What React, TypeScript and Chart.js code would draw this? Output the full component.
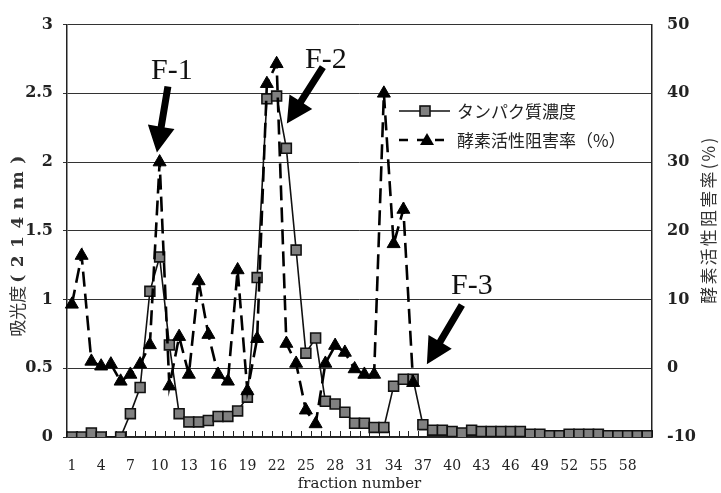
import React, { useEffect, useRef } from "react";
import { Chart, registerables } from "chart.js";

Chart.register(...registerables);

// ---------- data ----------
const fractions = [
  "1", "2", "3", "4", "5", "6", "7", "8", "9", "10",
  "11", "12", "13", "14", "15", "16", "17", "18", "19", "20",
  "21", "22", "23", "24", "25", "26", "27", "28", "29", "30",
  "31", "32", "33", "34", "35", "36", "37", "38", "39", "40",
  "41", "42", "43", "44", "45", "46", "47", "48", "49", "50",
  "51", "52", "53", "54", "55", "56", "57", "58", "59", "60",
];

// absorbance at 214 nm (left axis)
const proteinAbsorbance = [
  0, 0, 0.03, 0, null, 0, 0.17, 0.36, 1.06, 1.31,
  0.67, 0.17, 0.11, 0.11, 0.12, 0.15, 0.15, 0.19, 0.29, 1.16,
  2.46, 2.48, 2.1, 1.36, 0.61, 0.72, 0.26, 0.24, 0.18, 0.1,
  0.1, 0.07, 0.07, 0.37, 0.42, 0.42, 0.09, 0.05, 0.05, 0.04,
  0.03, 0.05, 0.04, 0.04, 0.04, 0.04, 0.04, 0.02, 0.02, 0.01,
  0.01, 0.02, 0.02, 0.02, 0.02, 0.01, 0.01, 0.01, 0.01, 0.01,
];

// enzyme activity inhibition rate in % (right axis)
const inhibitionRate = [
  9.3, 16.4, 1.0, 0.3, 0.6, -1.9, -0.9, 0.6, 3.4, 30.0,
  -2.6, 4.6, -0.9, 12.7, 4.9, -0.9, -1.9, 14.3, -3.3, 4.3,
  41.4, 44.3, 3.6, 0.7, -6.1, -8.1, 0.7, 3.3, 2.3, -0.1,
  -0.9, -0.9, 40.0, 18.1, 23.1, -2.1, null, null, null, null,
  null, null, null, null, null, null, null, null, null, null,
  null, null, null, null, null, null, null, null, null, null,
];

const proteinLabel = "タンパク質濃度";
const inhibitionLabel = "酵素活性阻害率（%）";
const leftTitleMain = "吸光度";
const leftTitleUnit = "(214nm)";
const rightTitle = "酵素活性阻害率(%)";
const xTitle = "fraction number";

const leftMin = 0;
const leftMax = 3;
const leftStep = 0.5;
const rightMin = -10;
const rightMax = 50;
const rightStep = 10;

// annotation labels with arrows, in data space (x = category index, y = left axis value)
const fLabels = ["F-1", "F-2", "F-3"];
const fTextIdx = [10.26, 26.05, 41.03];
const fTextVal = [2.66, 2.74, 1.1];
const fFromIdx = [9.85, 25.74, 40.0];
const fFromVal = [2.55, 2.69, 0.96];
const fToIdx = [8.72, 22.05, 36.41];
const fToVal = [2.07, 2.28, 0.53];

// ---------- helpers ----------
// draws text rotated -90deg, starting at (cx, startY) and running upward, spread over targetLen
function drawSpacedUp(
  ctx: CanvasRenderingContext2D,
  text: string,
  cx: number,
  startY: number,
  targetLen: number,
  font: string,
  color: string
) {
  ctx.save();
  ctx.font = font;
  ctx.fillStyle = color;
  ctx.translate(cx, startY);
  ctx.rotate(-Math.PI / 2);
  const chars = Array.from(text);
  const widths = chars.map((c) => ctx.measureText(c).width);
  const total = widths.reduce((a, b) => a + b, 0);
  const gap = chars.length > 1 ? Math.max(0, (targetLen - total) / (chars.length - 1)) : 0;
  let x = 0;
  ctx.textAlign = "left";
  ctx.textBaseline = "middle";
  chars.forEach((c, i) => {
    ctx.fillText(c, x, 0);
    x += widths[i] + gap;
  });
  ctx.restore();
}

function drawArrow(
  ctx: CanvasRenderingContext2D,
  x1: number,
  y1: number,
  x2: number,
  y2: number
) {
  const shaftW = 7;
  const headW = 27;
  const headL = 26;
  const dx = x2 - x1;
  const dy = y2 - y1;
  const len = Math.sqrt(dx * dx + dy * dy);
  const ux = dx / len;
  const uy = dy / len;
  const nx = -uy;
  const ny = ux;
  const bx = x2 - ux * headL;
  const by = y2 - uy * headL;
  ctx.save();
  ctx.fillStyle = "#000";
  ctx.beginPath();
  ctx.moveTo(x1 + nx * shaftW / 2, y1 + ny * shaftW / 2);
  ctx.lineTo(bx + nx * shaftW / 2, by + ny * shaftW / 2);
  ctx.lineTo(bx + nx * headW / 2, by + ny * headW / 2);
  ctx.lineTo(x2, y2);
  ctx.lineTo(bx - nx * headW / 2, by - ny * headW / 2);
  ctx.lineTo(bx - nx * shaftW / 2, by - ny * shaftW / 2);
  ctx.lineTo(x1 - nx * shaftW / 2, y1 - ny * shaftW / 2);
  ctx.closePath();
  ctx.fill();
  ctx.restore();
}

const decorPlugin = {
  id: "decor",
  beforeDatasetsDraw(chart: any) {
    const { ctx, chartArea, scales } = chart;
    const xs = scales.x;
    ctx.save();
    ctx.strokeStyle = "#222";
    ctx.lineWidth = 1;
    for (let i = 0; i <= fractions.length; i++) {
      const px = Math.round(xs.getPixelForValue(i - 0.5)) + 0.5;
      ctx.beginPath();
      ctx.moveTo(px, chartArea.bottom);
      ctx.lineTo(px, chartArea.bottom - 6);
      ctx.stroke();
    }
    ctx.restore();
  },
  afterDraw(chart: any) {
    const { ctx, chartArea, scales } = chart;
    const xs = scales.x;
    const ys = scales.y;

    // left axis title: CJK part tight, unit part spread
    const midY = (chartArea.top + chartArea.bottom) / 2;
    const leftStart = midY + 106;
    drawSpacedUp(ctx, leftTitleMain, 18, leftStart, 0, '17px "Noto Sans CJK JP"', "#333");
    ctx.save();
    ctx.font = '17px "Noto Sans CJK JP"';
    const mainW = ctx.measureText(leftTitleMain).width;
    ctx.restore();
    drawSpacedUp(
      ctx,
      leftTitleUnit,
      19,
      leftStart - mainW - 3,
      127,
      'bold 17px "DejaVu Serif", serif',
      "#333"
    );

    // right axis title
    ctx.save();
    ctx.font = '17px "Noto Sans CJK JP"';
    const rw = ctx.measureText(rightTitle).width;
    ctx.restore();
    drawSpacedUp(
      ctx,
      rightTitle,
      chartArea.right + 57,
      midY - 10 + Math.max(rw, 166) / 2,
      166,
      '17px "Noto Sans CJK JP"',
      "#333"
    );

    // legend
    const ds0 = chart.data.datasets[0];
    const ds1 = chart.data.datasets[1];
    const lx = chartArea.left + 332;
    const ly1 = 111;
    const ly2 = 140;
    ctx.save();
    ctx.strokeStyle = ds0.borderColor;
    ctx.lineWidth = ds0.borderWidth;
    ctx.beginPath();
    ctx.moveTo(lx, ly1);
    ctx.lineTo(lx + 51, ly1);
    ctx.stroke();
    ctx.fillStyle = ds0.pointBackgroundColor;
    ctx.strokeStyle = ds0.pointBorderColor;
    ctx.lineWidth = ds0.pointBorderWidth;
    ctx.fillRect(lx + 21, ly1 - 5, 10, 10);
    ctx.strokeRect(lx + 21, ly1 - 5, 10, 10);

    ctx.strokeStyle = ds1.borderColor;
    ctx.lineWidth = ds1.borderWidth;
    ctx.setLineDash([9, 9]);
    ctx.beginPath();
    ctx.moveTo(lx, ly2);
    ctx.lineTo(lx + 45, ly2);
    ctx.stroke();
    ctx.setLineDash([]);
    ctx.fillStyle = ds1.pointBackgroundColor;
    ctx.beginPath();
    ctx.moveTo(lx + 28, ly2 - 7);
    ctx.lineTo(lx + 35, ly2 + 5);
    ctx.lineTo(lx + 21, ly2 + 5);
    ctx.closePath();
    ctx.fill();

    ctx.fillStyle = "#222";
    ctx.font = '17px "Noto Sans CJK JP"';
    ctx.textAlign = "left";
    ctx.textBaseline = "middle";
    ctx.fillText(proteinLabel, lx + 58, ly1 + 1);
    ctx.fillText(inhibitionLabel, lx + 58, ly2 + 1);
    ctx.restore();

    // F labels + arrows
    ctx.save();
    ctx.fillStyle = "#111";
    ctx.font = '30px "Liberation Serif", "DejaVu Serif", serif';
    ctx.textAlign = "center";
    ctx.textBaseline = "middle";
    for (let i = 0; i < fLabels.length; i++) {
      ctx.fillText(fLabels[i], xs.getPixelForValue(fTextIdx[i]), ys.getPixelForValue(fTextVal[i]));
      drawArrow(
        ctx,
        xs.getPixelForValue(fFromIdx[i]),
        ys.getPixelForValue(fFromVal[i]),
        xs.getPixelForValue(fToIdx[i]),
        ys.getPixelForValue(fToVal[i])
      );
    }
    ctx.restore();
  },
};

export default function App() {
  const canvasRef = useRef<HTMLCanvasElement | null>(null);

  useEffect(() => {
    document.body.style.margin = "0";
    const canvas = canvasRef.current;
    if (!canvas) return;
    const tickFont = { family: '"DejaVu Serif", serif', size: 16, weight: "bold" as const };
    const chart = new Chart(canvas, {
      type: "line",
      data: {
        labels: fractions,
        datasets: [
          {
            label: proteinLabel,
            data: proteinAbsorbance,
            yAxisID: "y",
            borderColor: "#111",
            borderWidth: 1.6,
            pointStyle: "rect",
            pointRadius: 7,
            pointBackgroundColor: "#808080",
            pointBorderColor: "#111",
            pointBorderWidth: 1.6,
            tension: 0,
            spanGaps: true,
            order: 1,
          },
          {
            label: inhibitionLabel,
            data: inhibitionRate,
            yAxisID: "y1",
            borderColor: "#000",
            borderWidth: 2.6,
            borderDash: [15, 7],
            pointStyle: "triangle",
            pointRadius: 7.5,
            pointBackgroundColor: "#000",
            pointBorderColor: "#000",
            pointBorderWidth: 1,
            tension: 0,
            spanGaps: false,
            order: 0,
          },
        ],
      },
      options: {
        animation: false,
        responsive: false,
        devicePixelRatio: 1,
        layout: { padding: { top: 17, left: 0, right: 0, bottom: 0 } },
        plugins: {
          legend: { display: false },
          tooltip: { enabled: false },
        },
        scales: {
          x: {
            type: "category",
            offset: true,
            grid: { display: false, drawTicks: false },
            border: { display: true, color: "#222", width: 1.5 },
            ticks: {
              autoSkip: false,
              maxRotation: 0,
              minRotation: 0,
              padding: 21,
              color: "#222",
              font: { family: '"DejaVu Serif", serif', size: 14 },
              callback: (_v: any, i: number) => (i % 3 === 0 ? fractions[i] : ""),
            },
            title: {
              display: true,
              text: xTitle,
              color: "#222",
              font: { family: '"DejaVu Serif", serif', size: 15 },
              padding: { top: 0, bottom: 0 },
            },
            afterFit: (s: any) => {
              s.height = 56;
            },
          },
          y: {
            type: "linear",
            position: "left",
            min: leftMin,
            max: leftMax,
            ticks: {
              stepSize: leftStep,
              padding: 10,
              color: "#222",
              font: tickFont,
              callback: (v: any) => String(v),
            },
            grid: {
              color: "#333",
              lineWidth: 1,
              drawTicks: true,
              tickLength: 4,
              tickColor: "#333",
            },
            border: { display: true, color: "#222", width: 1.5 },
            afterFit: (s: any) => {
              s.width = 67;
            },
          },
          y1: {
            type: "linear",
            position: "right",
            min: rightMin,
            max: rightMax,
            ticks: {
              stepSize: rightStep,
              padding: 15,
              color: "#222",
              font: tickFont,
              callback: (v: any) => String(v),
            },
            grid: { drawOnChartArea: false, drawTicks: false },
            border: { display: true, color: "#222", width: 1.5 },
            afterFit: (s: any) => {
              s.width = 69;
            },
          },
        },
      },
      plugins: [decorPlugin],
    } as any);
    return () => chart.destroy();
  }, []);

  return (
    <div style={{ width: 721, height: 493 }}>
      <canvas ref={canvasRef} width={721} height={493} style={{ display: "block" }} />
    </div>
  );
}
